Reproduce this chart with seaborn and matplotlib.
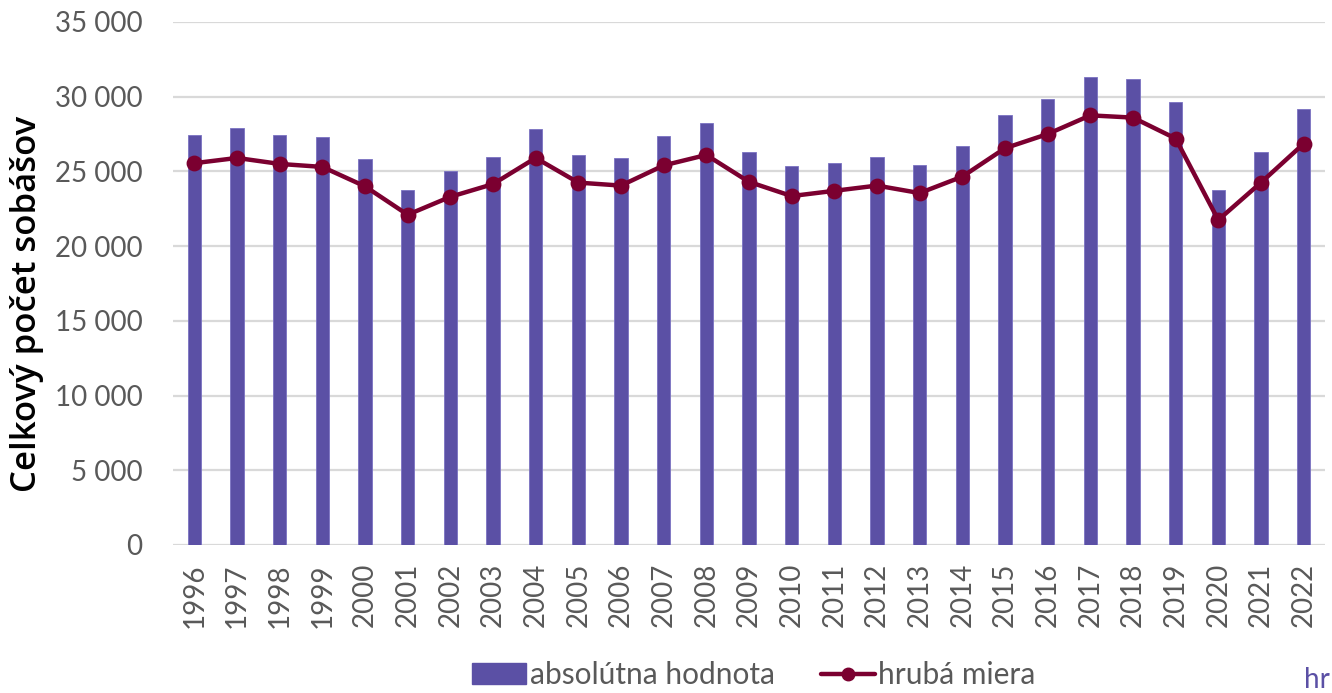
import numpy as np
import pandas as pd
import matplotlib
matplotlib.use("Agg")
import matplotlib.pyplot as plt
import seaborn as sns
from matplotlib.lines import Line2D
from matplotlib.patches import Patch

years = [str(y) for y in range(1996, 2023)]
marriages = [27440, 27930, 27460, 27330, 25860, 23760, 25030, 25990, 27860, 26120,
             25900, 27400, 28270, 26330, 25390, 25590, 25970, 25460, 26710, 28760,
             29870, 31300, 31170, 29650, 23740, 26330, 29160]
crude_rate = [5.11, 5.18, 5.10, 5.06, 4.80, 4.42, 4.66, 4.83, 5.18, 4.85,
              4.81, 5.08, 5.22, 4.86, 4.67, 4.74, 4.81, 4.71, 4.93, 5.31,
              5.50, 5.75, 5.72, 5.44, 4.35, 4.85, 5.37]
yticks = [0, 5000, 10000, 15000, 20000, 25000, 30000, 35000]
ytick_labels = ["0", "5 000", "10 000", "15 000", "20 000", "25 000", "30 000", "35 000"]

bar_label = "absolútna hodnota"
line_label = "hrubá miera"
ylabel = "Celkový počet sobášov"
cut_label = "hr"

BAR_C = "#5B50A5"
LINE_C = "#7B0030"
TXT_C = "#595959"

sns.set_theme(style="white")
plt.rcParams['font.family'] = ['Lato', 'DejaVu Sans']

df = pd.DataFrame({"year": years, "marriages": marriages, "rate": crude_rate})

fig = plt.figure(figsize=(13.32, 6.93), dpi=100)
ax = fig.add_axes([0.1299, 0.2136, 0.8648, 0.7547])

sns.barplot(data=df, x="year", y="marriages", color=BAR_C, width=0.31,
            saturation=1, ax=ax, edgecolor="#7A72C2", linewidth=0.6, zorder=2)
ax.set_ylim(0, 35000)
ax.set_xlim(-0.5, len(years) - 0.5)
ax.set_yticks(yticks)
ax.set_yticklabels(ytick_labels)
ax.yaxis.grid(True, color="#D9D9D9", linewidth=1.6, zorder=0)
ax.set_axisbelow(True)
for s in ax.spines.values():
    s.set_visible(False)
ax.tick_params(axis="y", labelsize=20, labelcolor=TXT_C, length=0, pad=22)
ax.tick_params(axis="x", labelsize=20, labelcolor=TXT_C, length=0, pad=13, rotation=90)
ax.set_xlabel("")
ax.set_ylabel("")
fig.text(0.0205, 0.561, ylabel, rotation=90, ha="center", va="center",
         fontsize=25, color="black", fontweight="semibold",
         family=["Open Sans", "DejaVu Sans"])

ax2 = ax.twinx()
sns.pointplot(data=df, x="year", y="rate", color=LINE_C, markers="o",
              markersize=9, linewidth=3.2, ax=ax2)
ax2.set_ylim(0, 7)
ax2.set_xlim(-0.5, len(years) - 0.5)
ax2.set_yticks([])
ax2.set_ylabel("")
for s in ax2.spines.values():
    s.set_visible(False)

handles = [Patch(facecolor=BAR_C, edgecolor=BAR_C),
           Line2D([0], [0], color=LINE_C, lw=3.2, marker="o", markersize=9)]
leg = fig.legend(handles, [bar_label, line_label], loc="lower center",
                 bbox_to_anchor=(0.566, -0.033), ncol=2, frameon=False,
                 fontsize=21.5, handlelength=1.8, handletextpad=0.12, columnspacing=1.55,
                 handleheight=0.7)
for t in leg.get_texts():
    t.set_color(TXT_C)

fig.text(0.9985, 0.0, cut_label, color=BAR_C, fontsize=20, ha="right", va="bottom")

fig.savefig("out.png", dpi=100)
